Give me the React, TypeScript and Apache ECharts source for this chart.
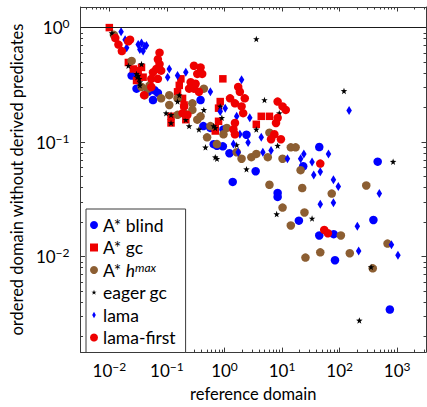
import React, { useEffect, useRef } from "react";
import * as echarts from "echarts";

const aStarBlind: [number, number][] = [
  [0.0244, 0.381], [0.0297, 0.293], [0.047, 0.275], [0.0573, 0.233], [0.0697, 0.269], [0.061, 0.284],
  [0.384, 0.233], [0.43, 0.138], [0.569, 0.133], [0.65, 0.096], [0.74, 0.093], [0.937, 0.0918], [0.96, 0.129],
  [1.22, 0.08], [1.39, 0.0449], [2.41, 0.116], [3.48, 0.0557], [8.38, 0.036], [8.38, 0.0332], [19.6, 0.0206],
  [23.3, 0.0615], [44.3, 0.0906], [44.3, 0.0153], [78.9, 0.0157], [83, 0.0093], [386, 0.0209], [458, 0.0675], [745, 0.00345],
];
const aStarGc: [number, number][] = [
  [0.01, 1.0], [0.0214, 0.496], [0.0261, 0.435], [0.0317, 0.421], [0.0362, 0.449], [0.0297, 0.345], [0.0386, 0.369],
  [0.164, 0.313], [0.153, 0.275], [0.175, 0.357], [0.187, 0.241], [0.199, 0.211], [0.118, 0.168], [0.118, 0.147], [0.213, 0.157],
  [0.937, 0.357], [0.843, 0.226], [0.789, 0.198], [0.692, 0.133], [0.789, 0.152], [0.692, 0.125],
  [4.35, 0.168], [6.04, 0.168], [3.57, 0.143],
];
const aStarHmax: [number, number][] = [
  [0.012, 0.865], [0.0244, 0.512], [0.0362, 0.303], [0.0502, 0.313], [0.047, 0.293], [0.0412, 0.257], [0.0794, 0.241],
  [0.11, 0.257], [0.11, 0.211], [0.153, 0.241], [0.153, 0.173], [0.199, 0.179], [0.277, 0.218], [0.277, 0.191], [0.337, 0.157],
  [0.384, 0.168], [0.438, 0.293], [0.499, 0.11], [0.569, 0.138], [0.74, 0.0961], [1.1, 0.133], [0.96, 0.117], [1.63, 0.0816],
  [1.98, 0.0716], [2.93, 0.0739], [3.57, 0.0789], [5.65, 0.0739], [6.04, 0.121], [10.2, 0.0716], [14.2, 0.09], [17.2, 0.09],
  [21, 0.0569], [22.4, 0.0397], [6.04, 0.0424], [10.2, 0.0268], [14.2, 0.0187], [24.5, 0.0243], [25.5, 0.0098], [46.1, 0.0109],
  [72.9, 0.0355], [105, 0.0153], [150, 0.0107], [290, 0.0418], [376, 0.0079], [679, 0.013],
];
const eagerGc: [number, number][] = [
  [0.0111, 0.895], [0.0214, 0.464], [0.0297, 0.394], [0.0317, 0.381], [0.033, 0.357], [0.0339, 0.334], [0.0339, 0.313], [0.0362, 0.48], [0.0305, 0.369],
  [0.0968, 0.179], [0.118, 0.173], [0.118, 0.147], [0.164, 0.257], [0.153, 0.226], [0.243, 0.138], [0.213, 0.157], [0.36, 0.129], [0.438, 0.191],
  [0.467, 0.09], [0.649, 0.138], [0.692, 0.133], [0.692, 0.0739], [0.74, 0.0716], [0.843, 0.205], [0.9, 0.163], [1.63, 0.0942], [2.41, 0.058],
  [3.57, 0.795], [3.57, 0.129], [4.95, 0.233], [8.38, 0.0931], [8.95, 0.179], [8.06, 0.0235], [33.2, 0.0215], [119, 0.28], [220, 0.00277], [352, 0.0081], [849, 0.0675],
];
const lama: [number, number][] = [
  [0.016, 0.92], [0.0188, 0.785], [0.02, 0.666], [0.0317, 0.711], [0.0362, 0.735], [0.0412, 0.689], [0.0339, 0.644], [0.0386, 0.624], [0.0441, 0.697],
  [0.11, 0.435], [0.103, 0.369], [0.153, 0.381], [0.213, 0.407], [0.569, 0.275], [1.03, 0.198], [0.843, 0.185], [1.63, 0.168], [1.98, 0.35], [2.75, 0.163],
  [4.35, 0.11], [1.43, 0.0961], [1.85, 0.117], [1.73, 0.0816], [2.57, 0.0993], [4.64, 0.0816], [6.44, 0.0843], [12.4, 0.0716], [21, 0.0716], [23.9, 0.0789],
  [33.2, 0.067], [64, 0.0789], [46.1, 0.0551], [35.5, 0.0516], [78, 0.0468], [94.8, 0.041], [46.1, 0.0286], [78, 0.0295], [146, 0.189], [203, 0.0184],
  [214, 0.0112], [489, 0.0355], [794, 0.0127], [1030, 0.0103],
];
const lamaFirst: [number, number][] = [
  [0.0127, 0.811], [0.0144, 0.711], [0.0165, 0.624], [0.0214, 0.759], [0.0229, 0.785], [0.0745, 0.604], [0.0697, 0.529], [0.0745, 0.48],
  [0.0653, 0.435], [0.0573, 0.407], [0.0794, 0.421], [0.0536, 0.357], [0.0697, 0.357], [0.0402, 0.257], [0.0536, 0.303],
  [0.295, 0.464], [0.384, 0.449], [0.337, 0.394], [0.41, 0.394], [0.259, 0.334], [0.315, 0.323], [0.295, 0.293], [0.36, 0.275], [0.243, 0.293],
  [0.199, 0.205], [0.187, 0.179], [0.227, 0.173],
  [1.73, 0.303], [1.85, 0.275], [2.25, 0.241], [1.52, 0.218], [1.98, 0.205], [2.11, 0.179], [1.52, 0.147], [1.43, 0.129], [1.52, 0.117], [1.25, 0.241],
  [8.38, 0.226], [10.2, 0.205], [11.6, 0.191], [7.35, 0.117], [6.44, 0.106], [9.55, 0.106], [7.85, 0.147], [8.38, 0.163],
  [46.1, 0.0649], [54, 0.0171], [62.4, 0.016],
];

const seriesNames = ["A* blind", "A* gc", "A* hmax", "eager gc", "lama", "lama-first"];
const xMajorTicks = [0.01, 0.1, 1, 10, 100, 1000];
const yMajorTicks = [0.01, 0.1, 1];
const xTitle = "reference domain";
const yTitle = "ordered domain without derived predicates";

const X_MIN = Math.pow(10, -2.5);
const X_MAX = Math.pow(10, 3.5);
const Y_MIN = Math.pow(10, -2.834);
const Y_MAX = Math.pow(10, 0.18);

function minorTicks(min: number, max: number): number[] {
  const out: number[] = [];
  for (let k = -4; k <= 4; k++) {
    for (let m = 2; m <= 9; m++) {
      const v = m * Math.pow(10, k);
      if (v > min && v < max) out.push(v);
    }
  }
  return out;
}

const STAR = "M5,0L6.18,3.38L9.76,3.45L6.9,5.62L7.94,9.05L5,7L2.06,9.05L3.1,5.62L0.24,3.45L3.82,3.38Z";
const FONT = "Lato";
const FRAME = "#3a3a3a";

function supLabel(v: number): string {
  const e = Math.round(Math.log10(v));
  return `10{sup|${e < 0 ? "\u2212" + -e : e}}`;
}

export default function App() {
  const ref = useRef<HTMLDivElement>(null);
  useEffect(() => {
    if (!ref.current) return;
    const chart = echarts.init(ref.current, undefined, { renderer: "svg" });
    const labelRich = {
      sup: { fontSize: 12, lineHeight: 10, verticalAlign: "top", fontFamily: FONT, color: "#000" },
    };
    const xMinor = minorTicks(X_MIN, X_MAX);
    const yMinor = minorTicks(Y_MIN, Y_MAX);
    const baseX = { type: "log", min: X_MIN, max: X_MAX, gridIndex: 0, splitLine: { show: false } };
    const baseY = { type: "log", min: Y_MIN, max: Y_MAX, gridIndex: 0, splitLine: { show: false } };
    const xAxes = [
      {
        ...baseX, position: "bottom",
        axisLine: { show: true, onZero: false, lineStyle: { color: FRAME, width: 1 } },
        axisTick: { show: true, inside: true, length: 4.5, customValues: xMajorTicks, lineStyle: { color: FRAME } },
        axisLabel: {
          show: true, customValues: xMajorTicks, formatter: supLabel, margin: 8,
          fontSize: 17, lineHeight: 20, fontFamily: FONT, color: "#000", rich: labelRich,
        },
        name: xTitle, nameLocation: "middle", nameGap: 30,
        nameTextStyle: { fontSize: 16.5, fontFamily: FONT, color: "#000" },
      },
      {
        ...baseX, position: "bottom",
        axisLine: { show: false, onZero: false },
        axisTick: { show: true, inside: true, length: 2.5, customValues: xMinor, lineStyle: { color: FRAME } },
        axisLabel: { show: false },
      },
      {
        ...baseX, position: "top",
        axisLine: { show: true, onZero: false, lineStyle: { color: FRAME, width: 1 } },
        axisTick: { show: true, inside: true, length: 4.5, customValues: xMajorTicks, lineStyle: { color: FRAME } },
        axisLabel: { show: false },
      },
      {
        ...baseX, position: "top",
        axisLine: { show: false, onZero: false },
        axisTick: { show: true, inside: true, length: 2.5, customValues: xMinor, lineStyle: { color: FRAME } },
        axisLabel: { show: false },
      },
    ];
    const yAxes = [
      {
        ...baseY, position: "left",
        axisLine: { show: true, onZero: false, lineStyle: { color: FRAME, width: 1 } },
        axisTick: { show: true, inside: true, length: 4.5, customValues: yMajorTicks, lineStyle: { color: FRAME } },
        axisLabel: {
          show: true, customValues: yMajorTicks, formatter: supLabel, margin: 11,
          fontSize: 17, lineHeight: 20, fontFamily: FONT, color: "#000", rich: labelRich,
        },
        name: yTitle, nameLocation: "middle", nameGap: 52, nameRotate: 90,
        nameTextStyle: { fontSize: 16.5, fontFamily: FONT, color: "#000" },
      },
      {
        ...baseY, position: "left",
        axisLine: { show: false, onZero: false },
        axisTick: { show: true, inside: true, length: 2.5, customValues: yMinor, lineStyle: { color: FRAME } },
        axisLabel: { show: false },
      },
      {
        ...baseY, position: "right",
        axisLine: { show: true, onZero: false, lineStyle: { color: FRAME, width: 1 } },
        axisTick: { show: true, inside: true, length: 4.5, customValues: yMajorTicks, lineStyle: { color: FRAME } },
        axisLabel: { show: false },
      },
      {
        ...baseY, position: "right",
        axisLine: { show: false, onZero: false },
        axisTick: { show: true, inside: true, length: 2.5, customValues: yMinor, lineStyle: { color: FRAME } },
        axisLabel: { show: false },
      },
    ];
    const mk = (name: string, data: [number, number][], symbol: string, size: any, color: string, extra: any = {}) => ({
      name, type: "scatter", data, symbol, symbolSize: size, xAxisIndex: 0, yAxisIndex: 0,
      itemStyle: { color, opacity: 1 }, emphasis: { disabled: true }, silent: true, ...extra,
    });
    const option: any = {
      animation: false,
      grid: { left: 75, right: 1, top: 7, bottom: 48, containLabel: false },
      xAxis: xAxes,
      yAxis: yAxes,
      legend: {
        orient: "vertical", left: 86, top: 209, padding: [7, 10, 6, 4],
        itemWidth: 8, itemHeight: 8, itemGap: 4.5,
        backgroundColor: "#fff", borderColor: FRAME, borderWidth: 1, borderRadius: 0,
        selectedMode: false,
        textStyle: {
          fontSize: 17.5, lineHeight: 17.5, fontFamily: FONT, color: "#000",
          rich: {
            i: { fontSize: 17.5, lineHeight: 17.5, fontStyle: "italic", fontFamily: FONT, color: "#000" },
            sup: { fontSize: 12, lineHeight: 8, verticalAlign: "top", fontStyle: "italic", fontFamily: FONT, color: "#000" },
          },
        },
        formatter: (n: string) => (n === "A* hmax" ? "A* {i|h}{sup|max}" : n),
        data: [
          { name: seriesNames[0], icon: "circle" },
          { name: seriesNames[1], icon: "rect" },
          { name: seriesNames[2], icon: "circle" },
          { name: seriesNames[3], icon: "path://M-2.5,-2.5M12.5,12.5M" + STAR.slice(1) },
          { name: seriesNames[4], icon: "path://M0,0M10,10M5,0.8L7.3,5L5,9.2L2.7,5Z" },
          { name: seriesNames[5], icon: "circle" },
        ],
      },
      series: [
        mk(seriesNames[0], aStarBlind, "circle", 8.5, "#0000ff", {
          markLine: {
            silent: true, symbol: "none", label: { show: false },
            lineStyle: { color: "#1a1a1a", width: 1, type: "solid" },
            data: [{ yAxis: 1 }],
          },
        }),
        mk(seriesNames[1], aStarGc, "rect", 7.5, "#ee0000"),
        mk(seriesNames[2], aStarHmax, "circle", 8.5, "#8c5e32"),
        mk(seriesNames[3], eagerGc, "path://" + STAR, 6.5, "#000000"),
        mk(seriesNames[4], lama, "diamond", [5.5, 9], "#0000ff"),
        mk(seriesNames[5], lamaFirst, "circle", 8.5, "#ee0000"),
      ],
    };
    chart.setOption(option);
    return () => chart.dispose();
  }, []);
  return (
    <div
      ref={ref}
      style={{ position: "fixed", left: 0, top: 0, width: 427, height: 407, background: "#fff" }}
    />
  );
}
